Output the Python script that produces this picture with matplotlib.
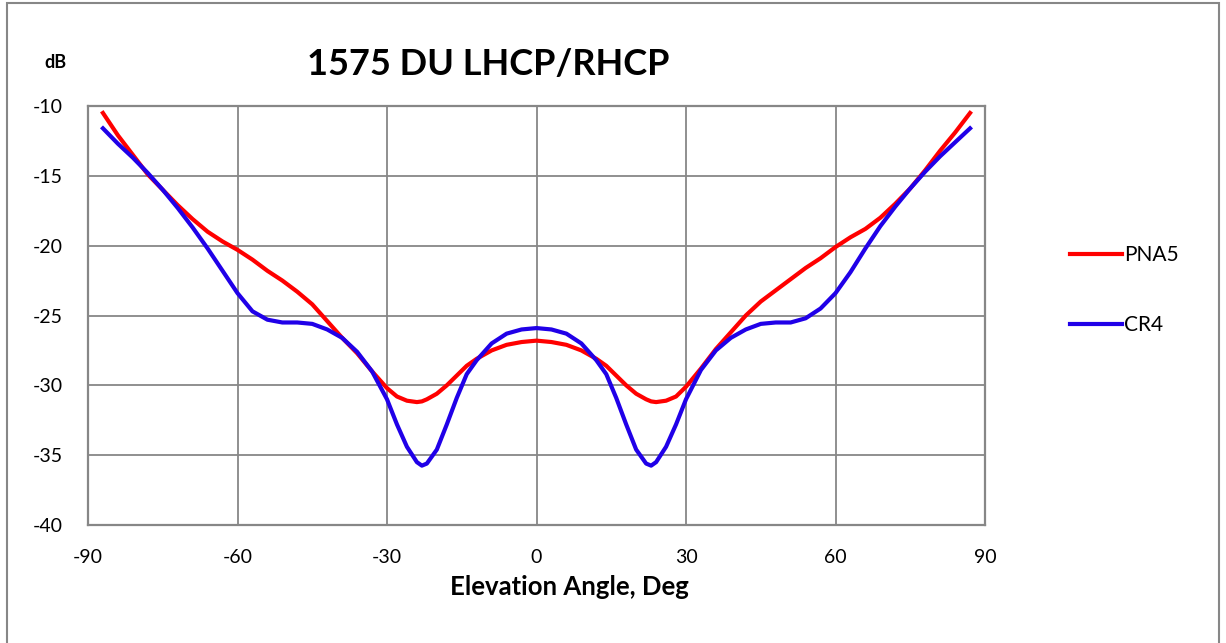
import matplotlib.pyplot as plt
from matplotlib.patches import Rectangle

# Elevation angle (deg) at which the curves were read
angles = [-87, -84, -81, -78, -75, -72, -69, -66, -63, -60, -57, -54, -51, -48, -45,
          -42, -39, -36, -33, -30, -28, -26, -24, -23, -22, -20, -18, -16, -14, -12, -9,
          -6, -3, 0, 3, 6, 9, 12, 14, 16, 18, 20, 22, 23, 24, 26, 28, 30, 33, 36, 39,
          42, 45, 48, 51, 54, 57, 60, 63, 66, 69, 72, 75, 78, 81, 84, 87]

pna5 = [-10.5, -12.1, -13.5, -14.9, -16.0, -17.1, -18.1, -19.0, -19.7, -20.3, -21.0,
        -21.8, -22.5, -23.3, -24.2, -25.4, -26.6, -27.7, -29.0, -30.2, -30.8, -31.1,
        -31.2, -31.15, -31.0, -30.6, -30.0, -29.3, -28.6, -28.1, -27.5, -27.1, -26.9, -26.8,
        -26.9, -27.1, -27.5, -28.1, -28.6, -29.3, -30.0, -30.6, -31.0, -31.15, -31.2, -31.1,
        -30.8, -30.1, -28.8, -27.4, -26.2, -25.0, -24.0, -23.2, -22.4, -21.6, -20.9,
        -20.1, -19.4, -18.8, -18.0, -17.0, -15.9, -14.6, -13.2, -11.9, -10.5]

cr4 = [-11.6, -12.7, -13.7, -14.8, -16.0, -17.3, -18.7, -20.2, -21.8, -23.4, -24.7,
       -25.3, -25.5, -25.5, -25.6, -26.0, -26.6, -27.6, -29.0, -31.0, -32.8, -34.4,
       -35.5, -35.75, -35.6, -34.6, -32.8, -30.9, -29.2, -28.2, -27.0, -26.3, -26.0, -25.9,
       -26.0, -26.3, -27.0, -28.2, -29.2, -30.9, -32.8, -34.6, -35.6, -35.75, -35.5, -34.4,
       -32.8, -31.0, -28.9, -27.5, -26.6, -26.0, -25.6, -25.5, -25.5, -25.2, -24.5,
       -23.4, -21.9, -20.2, -18.6, -17.2, -15.9, -14.7, -13.6, -12.6, -11.6]

x_ticks = [-90, -60, -30, 0, 30, 60, 90]
y_ticks = [-40, -35, -30, -25, -20, -15, -10]

plt.rcParams["font.family"] = ["Lato", "DejaVu Sans"]
plt.rcParams["axes.unicode_minus"] = False
GRID = "#878787"

W, H = 1226, 643
fig = plt.figure(figsize=(W / 100, H / 100), dpi=100)
ax = fig.add_axes([88 / W, 1 - 525 / H, (985 - 88) / W, (525 - 106) / H])

ax.plot(angles, pna5, color="#FF0000", lw=3.0, label="PNA5", zorder=3)
ax.plot(angles, cr4, color="#2000E8", lw=3.0, label="CR4", zorder=3)

ax.set_xlim(-90, 90)
ax.set_ylim(-40, -10)
ax.set_xticks(x_ticks)
ax.set_yticks(y_ticks)
ax.grid(True, color=GRID, lw=1.3)
ax.tick_params(length=0, labelsize=14)
ax.tick_params(axis="x", pad=17)
ax.tick_params(axis="y", pad=18)
for s in ax.spines.values():
    s.set_color(GRID)
    s.set_linewidth(1.6)

fig.text(569 / W, 1 - 595 / H, "Elevation Angle, Deg", fontsize=18.5, fontweight="bold",
         ha="center", va="baseline")
fig.text(488 / W, 1 - 75 / H, "1575 DU LHCP/RHCP", fontsize=26, fontweight="bold",
         ha="center", va="baseline")
fig.text(55 / W, 1 - 68 / H, "dB", fontsize=13, fontweight="bold", ha="center", va="baseline")

ax.legend(loc="center left", bbox_to_anchor=(1070 / W, 1 - 290 / H),
          bbox_transform=fig.transFigure, frameon=False, fontsize=15,
          handlelength=2.5, handletextpad=0.1, labelspacing=2.4,
          borderpad=0, borderaxespad=0)

# outer chart frame
fig.patches.append(Rectangle((7 / W, -0.05), (1219 - 7) / W, 1.05 - 3 / H,
                             transform=fig.transFigure, fill=False,
                             edgecolor=GRID, lw=1.5))

fig.savefig("out.png", dpi=100)
